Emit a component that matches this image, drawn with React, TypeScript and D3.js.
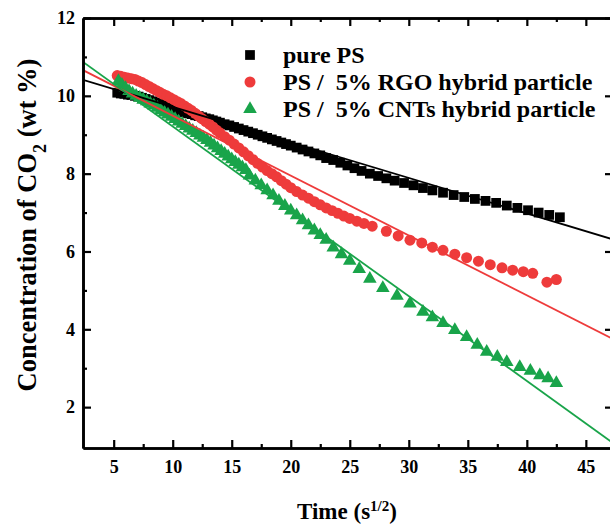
import * as d3 from "d3";
import { useEffect, useRef } from "react";

// measured points: [time s^1/2, CO2 wt %]
const purePS: [number, number][] = [
  [5.3, 10.08], [5.6, 10.06], [5.9, 10.05], [6.2, 10.03], [6.5, 10.02], [6.8, 10.0],
  [7.1, 9.98], [7.4, 9.95], [7.7, 9.92], [8.0, 9.89], [8.3, 9.86], [8.6, 9.83],
  [8.9, 9.8], [9.2, 9.77], [9.5, 9.73], [9.8, 9.7], [10.1, 9.67], [10.4, 9.64],
  [10.7, 9.61], [11.0, 9.58], [11.3, 9.55], [11.6, 9.53], [11.9, 9.5], [12.2, 9.48],
  [12.5, 9.45], [12.8, 9.42], [13.1, 9.4], [13.4, 9.37], [13.7, 9.34], [14.0, 9.31],
  [14.4, 9.27], [14.8, 9.24], [15.2, 9.2], [15.6, 9.16], [16.0, 9.12], [16.4, 9.08],
  [16.8, 9.04], [17.2, 9.0], [17.6, 8.96], [18.0, 8.92], [18.4, 8.88], [18.8, 8.84],
  [19.2, 8.8], [19.6, 8.76], [20.0, 8.72], [20.5, 8.67], [21.0, 8.62], [21.5, 8.57],
  [22.0, 8.52], [22.5, 8.47], [23.0, 8.4], [23.6, 8.35], [24.2, 8.28], [24.8, 8.21],
  [25.4, 8.14], [26.0, 8.07], [26.7, 8.0], [27.4, 7.94], [28.1, 7.88], [28.8, 7.82],
  [29.6, 7.76], [30.4, 7.7], [31.2, 7.63], [32.0, 7.57], [32.9, 7.51], [33.8, 7.45],
  [34.7, 7.4], [35.6, 7.35], [36.5, 7.3], [37.4, 7.25], [38.3, 7.18], [39.2, 7.12],
  [40.1, 7.06], [41.0, 7.0], [41.9, 6.94], [42.8, 6.88],
];

const psRGO: [number, number][] = [
  [5.3, 10.52], [5.6, 10.5], [5.9, 10.48], [6.2, 10.46], [6.5, 10.44], [6.8, 10.42],
  [7.1, 10.38], [7.4, 10.34], [7.7, 10.29], [8.0, 10.24], [8.3, 10.19], [8.6, 10.14],
  [8.9, 10.09], [9.2, 10.04], [9.5, 10.0], [9.8, 9.95], [10.1, 9.9], [10.4, 9.85],
  [10.7, 9.8], [11.0, 9.74], [11.3, 9.68], [11.6, 9.62], [11.9, 9.55], [12.2, 9.48],
  [12.5, 9.41], [12.8, 9.34], [13.1, 9.27], [13.4, 9.2], [13.7, 9.12], [14.0, 9.05],
  [14.4, 8.95], [14.8, 8.86], [15.2, 8.76], [15.6, 8.66], [16.0, 8.56], [16.4, 8.46],
  [16.8, 8.36], [17.2, 8.26], [17.6, 8.17], [18.0, 8.08], [18.4, 8.0], [18.8, 7.92],
  [19.2, 7.82], [19.6, 7.73], [20.0, 7.64], [20.5, 7.54], [21.0, 7.45], [21.5, 7.37],
  [22.0, 7.28], [22.5, 7.2], [23.0, 7.12], [23.5, 7.05], [24.0, 6.98], [24.5, 6.91],
  [25.0, 6.85], [25.6, 6.78], [26.2, 6.72], [26.9, 6.65], [28.1, 6.52], [29.1, 6.4],
  [30.1, 6.29], [31.1, 6.22], [32.0, 6.11], [32.9, 6.03], [33.9, 5.93], [34.9, 5.84],
  [35.9, 5.75], [36.9, 5.66], [37.9, 5.58], [38.8, 5.52], [39.7, 5.48], [40.5, 5.44],
  [41.7, 5.21], [42.5, 5.28],
];

const psCNTs: [number, number][] = [
  [5.4, 10.38], [5.7, 10.28], [6.0, 10.2], [6.3, 10.12], [6.6, 10.06], [6.9, 10.0],
  [7.2, 9.95], [7.5, 9.9], [7.8, 9.86], [8.1, 9.8], [8.4, 9.75], [8.7, 9.69],
  [9.0, 9.63], [9.3, 9.57], [9.6, 9.52], [9.9, 9.46], [10.2, 9.4], [10.5, 9.34],
  [10.8, 9.28], [11.1, 9.22], [11.4, 9.16], [11.7, 9.1], [12.0, 9.04], [12.3, 8.98],
  [12.6, 8.92], [12.9, 8.86], [13.2, 8.79], [13.5, 8.72], [13.8, 8.65], [14.1, 8.58],
  [14.4, 8.51], [14.7, 8.44], [15.0, 8.37], [15.3, 8.3], [15.6, 8.23], [15.9, 8.16],
  [16.2, 8.09], [16.5, 7.95], [17.0, 7.82], [17.5, 7.7], [18.0, 7.57], [18.5, 7.44],
  [19.0, 7.3], [19.5, 7.17], [20.0, 7.05], [20.5, 6.93], [21.0, 6.8], [21.5, 6.67],
  [22.0, 6.54], [22.5, 6.42], [23.0, 6.3], [23.6, 6.1], [24.3, 5.93], [25.0, 5.76],
  [25.8, 5.55], [26.7, 5.3], [27.8, 5.06], [29.0, 4.86], [30.1, 4.66], [31.2, 4.45],
  [32.0, 4.31], [32.9, 4.16], [33.9, 3.98], [34.9, 3.8], [35.8, 3.6], [36.6, 3.42],
  [37.5, 3.29], [38.3, 3.16], [39.4, 3.03], [40.3, 2.93], [41.1, 2.82], [41.8, 2.74],
  [42.5, 2.62],
];

// linear fits, given by their values at the two ends of the x range
const fitPurePS: [number, number][] = [[2.4, 10.41], [47.3, 6.31]];
const fitRGO: [number, number][] = [[2.4, 10.66], [47.3, 3.75]];
const fitCNTs: [number, number][] = [[2.4, 10.87], [47.3, 1.08]];

const legendLabels = ["pure PS", "PS /  5% RGO hybrid particle", "PS /  5% CNTs hybrid particle"];

const xMajor = [5, 10, 15, 20, 25, 30, 35, 40, 45];
const xMinor = [7.5, 12.5, 17.5, 22.5, 27.5, 32.5, 37.5, 42.5];
const yMajor = [2, 4, 6, 8, 10, 12];
const yMinor = [3, 5, 7, 9, 11];

const FONT = "'Liberation Serif', 'Times New Roman', serif";

export default function App() {
  const ref = useRef<SVGSVGElement>(null);

  useEffect(() => {
    const svg = d3.select(ref.current);
    svg.selectAll("*").remove();

    const width = 610;
    const height = 527;
    const margin = { top: 18, right: -3, bottom: 79, left: 83 };

    const x = d3.scaleLinear()
      .domain([2.4, 47.3])
      .range([margin.left, width - margin.right]);

    const y = d3.scaleLinear()
      .domain([0.95, 12])
      .range([height - margin.bottom, margin.top]);

    const series = [
      { data: purePS, fit: fitPurePS, color: "#000000", symbol: d3.symbolSquare, size: 95 },
      { data: psRGO, fit: fitRGO, color: "#ee3b3b", symbol: d3.symbolCircle, size: 95 },
      { data: psCNTs, fit: fitCNTs, color: "#19a44a", symbol: d3.symbolTriangle, size: 80 },
    ];

    svg.append("defs").append("clipPath").attr("id", "plot-clip")
      .append("rect")
      .attr("x", x.range()[0]).attr("y", y.range()[1])
      .attr("width", x.range()[1] - x.range()[0])
      .attr("height", y.range()[0] - y.range()[1]);

    // markers
    series.forEach(s => {
      svg.append("g")
        .attr("clip-path", "url(#plot-clip)")
        .selectAll("path")
        .data(s.data)
        .join("path")
        .attr("transform", d => `translate(${x(d[0])},${y(d[1])})`)
        .attr("d", d3.symbol().type(s.symbol).size(s.size)())
        .attr("fill", s.color);
    });

    // fitted lines
    const line = d3.line<[number, number]>().x(d => x(d[0])).y(d => y(d[1]));
    series.forEach(s => {
      svg.append("path")
        .attr("clip-path", "url(#plot-clip)")
        .attr("d", line(s.fit))
        .attr("fill", "none")
        .attr("stroke", s.color)
        .attr("stroke-width", 1.8);
    });

    // axes
    const styleAxis = (g: any) => {
      g.select(".domain").attr("stroke-width", 2.6);
      g.selectAll(".tick line").attr("stroke-width", 2.2);
      g.selectAll("text")
        .attr("font-family", FONT)
        .attr("font-weight", "bold")
        .attr("font-size", 18)
        .attr("fill", "#000");
    };

    svg.append("g")
      .attr("transform", `translate(0,${y.range()[0]})`)
      .call(d3.axisBottom(x).tickValues(xMajor).tickSize(-8).tickSizeOuter(0).tickPadding(12).tickFormat(d3.format("d")))
      .call(styleAxis);
    svg.append("g")
      .attr("transform", `translate(0,${y.range()[0]})`)
      .call(d3.axisBottom(x).tickValues(xMinor).tickSize(-4).tickSizeOuter(0).tickFormat(() => ""))
      .call(styleAxis);

    svg.append("g")
      .attr("transform", `translate(0,${y.range()[1]})`)
      .call(d3.axisTop(x).tickValues(xMajor).tickSize(-8).tickSizeOuter(0).tickFormat(() => ""))
      .call(styleAxis);
    svg.append("g")
      .attr("transform", `translate(0,${y.range()[1]})`)
      .call(d3.axisTop(x).tickValues(xMinor).tickSize(-4).tickSizeOuter(0).tickFormat(() => ""))
      .call(styleAxis);

    svg.append("g")
      .attr("transform", `translate(${x.range()[0]},0)`)
      .call(d3.axisLeft(y).tickValues(yMajor).tickSize(-8).tickSizeOuter(0).tickPadding(8).tickFormat(d3.format("d")))
      .call(styleAxis);
    svg.append("g")
      .attr("transform", `translate(${x.range()[0]},0)`)
      .call(d3.axisLeft(y).tickValues(yMinor).tickSize(-4).tickSizeOuter(0).tickFormat(() => ""))
      .call(styleAxis);

    svg.append("g")
      .attr("transform", `translate(${x.range()[1]},0)`)
      .call(d3.axisRight(y).tickValues(yMajor).tickSize(-8).tickSizeOuter(0).tickFormat(() => ""))
      .call(styleAxis);

    // axis titles
    const xTitle = svg.append("text")
      .attr("x", 347)
      .attr("y", 519)
      .attr("text-anchor", "middle")
      .attr("font-family", FONT)
      .attr("font-weight", "bold")
      .attr("font-size", 23);
    xTitle.append("tspan").text("Time (s");
    xTitle.append("tspan").attr("baseline-shift", "super").attr("font-size", 15).text("1/2");
    xTitle.append("tspan").text(")");

    const yTitle = svg.append("text")
      .attr("transform", "translate(36,225) rotate(-90)")
      .attr("text-anchor", "middle")
      .attr("font-family", FONT)
      .attr("font-weight", "bold")
      .attr("font-size", 26.5);
    yTitle.append("tspan").text("Concentration of CO");
    yTitle.append("tspan").attr("baseline-shift", "sub").attr("font-size", 18).text("2");
    yTitle.append("tspan").text(" (wt %)");

    // legend
    const legend = svg.append("g");
    series.forEach((s, i) => {
      const ly = 55 + i * 27;
      legend.append("path")
        .attr("transform", `translate(250,${ly})`)
        .attr("d", d3.symbol().type(s.symbol).size(s.size)())
        .attr("fill", s.color);
      legend.append("text")
        .attr("x", 283)
        .attr("y", ly)
        .attr("dy", "0.35em")
        .attr("xml:space", "preserve")
        .style("white-space", "pre")
        .attr("font-family", FONT)
        .attr("font-weight", "bold")
        .attr("font-size", 24)
        .text(legendLabels[i]);
    });
  }, []);

  return (
    <div style={{ position: "absolute", left: 0, top: 0, background: "#fff" }}>
      <svg ref={ref} width={610} height={527} style={{ display: "block" }}></svg>
    </div>
  );
}
